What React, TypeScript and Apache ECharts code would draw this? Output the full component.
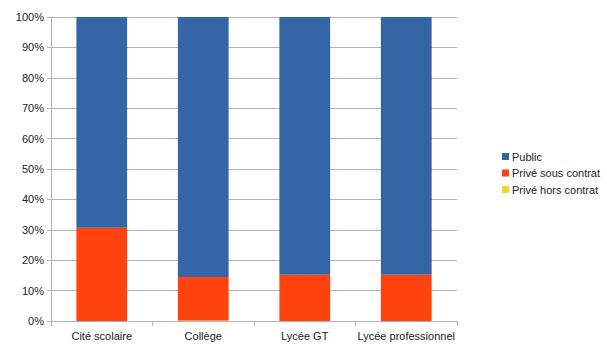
import React, { useEffect, useRef } from "react";
import * as echarts from "echarts";

const categories = ["Cité scolaire", "Collège", "Lycée GT", "Lycée professionnel"];
const publicValues = [69.3, 85.5, 84.8, 84.8];
const priveSousContrat = [30.7, 14.3, 15.2, 15.2];
const priveHorsContrat = [0, 0.2, 0, 0];
const yTicks = [0, 10, 20, 30, 40, 50, 60, 70, 80, 90, 100];

const FONT = "Liberation Sans, Arial, sans-serif";

export default function App() {
  const ref = useRef<HTMLDivElement>(null);
  useEffect(() => {
    if (!ref.current) return;
    const chart = echarts.init(ref.current, undefined, { renderer: "svg" });
    chart.setOption({
      animation: false,
      textStyle: { fontFamily: FONT },
      grid: { left: 51, right: 150, top: 17, bottom: 33, containLabel: false },
      legend: {
        orient: "vertical",
        left: 497,
        top: 146,
        itemWidth: 7,
        itemHeight: 7,
        itemGap: 5.5,
        icon: "rect",
        data: ["Public", "Privé sous contrat", "Privé hors contrat"],
        textStyle: { fontFamily: FONT, fontSize: 11, color: "#222", padding: [0, 0, 0, -2] },
      },
      xAxis: {
        type: "category",
        data: categories,
        boundaryGap: true,
        axisLine: { show: true, lineStyle: { color: "#b3b3b3" } },
        axisTick: { show: true, length: 5, alignWithLabel: false, lineStyle: { color: "#b3b3b3" } },
        axisLabel: { fontFamily: FONT, fontSize: 11, color: "#222", margin: 9, interval: 0 },
      },
      yAxis: {
        type: "value",
        min: 0,
        max: 100,
        interval: 10,
        axisLine: { show: true, lineStyle: { color: "#b3b3b3" } },
        axisTick: { show: true, length: 4, lineStyle: { color: "#b3b3b3" } },
        splitLine: { show: true, lineStyle: { color: "#b3b3b3" } },
        axisLabel: {
          fontFamily: FONT,
          fontSize: 11,
          color: "#222",
          margin: 7,
          formatter: (v: number) => (yTicks.includes(v) ? v + "%" : ""),
        },
      },
      series: [
        {
          name: "Privé hors contrat",
          type: "bar",
          stack: "total",
          data: priveHorsContrat,
          barCategoryGap: "50%",
          itemStyle: { color: "#ffd320" },
        },
        {
          name: "Privé sous contrat",
          type: "bar",
          stack: "total",
          data: priveSousContrat,
          barCategoryGap: "50%",
          itemStyle: { color: "#ff420e" },
        },
        {
          name: "Public",
          type: "bar",
          stack: "total",
          data: publicValues,
          barCategoryGap: "50%",
          itemStyle: { color: "#3465a4" },
        },
      ],
    });
    return () => chart.dispose();
  }, []);
  return (
    <div
      ref={ref}
      style={{ position: "absolute", left: 0, top: 0, width: 607, height: 354, background: "#fff" }}
    />
  );
}
